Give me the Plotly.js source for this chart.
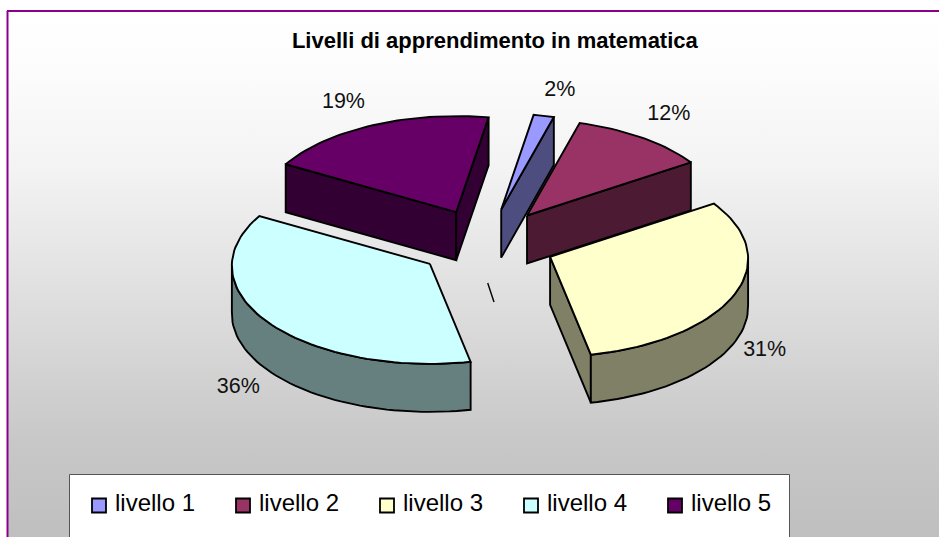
<!DOCTYPE html>
<html>
<head>
<meta charset="utf-8">
<script src="https://cdn.plot.ly/plotly-3.0.1.min.js"></script>
<style>
html,body{margin:0;padding:0;background:#fff;overflow:hidden}
#wrap{position:absolute;left:0;top:0;width:939px;height:537px;background:#fff}
#grad{position:absolute;left:7px;top:10px;right:0;bottom:0;
background:linear-gradient(to bottom,#fff 0,#fdfdfd 50px,#f3f3f3 160px,#c8c8c8 430px,#bfbfbf 527px)}
#chart{position:absolute;left:0;top:0;width:939px;height:537px}
</style>
</head>
<body>
<div id="wrap"><div id="grad"></div><div id="chart"></div></div>
<script>
// ---- data ----
const chartTitle = 'Livelli di apprendimento in matematica';
const categories = ['livello 1','livello 2','livello 3','livello 4','livello 5'];
const values = [1.7, 11.4, 31, 36.45, 19.45];
const valueLabels = ['2%','12%','31%','36%','19%'];
const topColors = ['#9999FF','#993366','#FFFFCC','#CCFFFF','#660066'];
const sideColors = ['#4D4D80','#4D1A33','#808066','#668080','#330033'];

// ---- projection of the tilted pie ----
const firstAngle = 9.6, center = [486, 243.5], rx = 198, ry = 98, depth = 48, explode = 69.4, persp = 0.02;
const outline = {color:'#000', width:1.9};
const labelFont = '"Liberation Sans",Arial,sans-serif';
const labelNudge = [[3,3],[-8,0],[-3,1],[-1,7],[-4,4]];
const rad = d => d*Math.PI/180;
const total = values.reduce((a,b)=>a+b,0);
let acc = firstAngle;
const slices = values.map((v,i)=>{
  const a0 = acc, a1 = acc + v/total*360; acc = a1;
  const mid = rad((a0+a1)/2);
  return {i,a0,a1,mid,
    ax: center[0]+explode*Math.sin(mid),
    ay: center[1]-explode*0.5*Math.cos(mid)};
});
function pt(s,a,dz){
  const c=Math.cos(rad(a)), f=1/(1+persp*c);
  return [s.ax+rx*Math.sin(rad(a))*f, s.ay-ry*c*f+(dz||0)];
}
function arc(s,a0,a1,dz){
  const n = Math.max(2,Math.ceil(Math.abs(a1-a0)/2)), out=[];
  for(let k=0;k<=n;k++) out.push(pt(s,a0+(a1-a0)*k/n,dz));
  return out;
}
const traces = [];
function poly(points,color,name){
  traces.push({type:'scatter',mode:'lines',x:points.map(p=>p[0]),y:points.map(p=>p[1]),
    fill:'toself',fillcolor:color,line:outline,hoverinfo:'text',text:name,showlegend:false});
}
function radialWall(s,a){
  const e=pt(s,a);
  poly([[s.ax,s.ay],e,[e[0],e[1]+depth],[s.ax,s.ay+depth],[s.ax,s.ay]],sideColors[s.i],categories[s.i]);
}
function drawSlice(s){
  const sn=a=>Math.sin(rad(a));
  if(sn(s.a0)<0) radialWall(s,s.a0);
  if(sn(s.a1)>0) radialWall(s,s.a1);
  const lo=Math.max(s.a0,90), hi=Math.min(s.a1,270);
  if(hi>lo){
    const front=arc(s,lo,hi,0), back=arc(s,hi,lo,depth);
    poly(front.concat(back,[front[0]]),sideColors[s.i],categories[s.i]);
  }
  const top=[[s.ax,s.ay]].concat(arc(s,s.a0,s.a1,0),[[s.ax,s.ay]]);
  poly(top,topColors[s.i],categories[s.i]);
}
[4,0,1,3,2].forEach(i=>drawSlice(slices[i]));

// percentage labels placed outside each slice along its bisector
const lab = slices.map(s=>{
  const lower = Math.cos(s.mid)<0, k = lower?1.19:1.28, n=labelNudge[s.i];
  return [s.ax+k*rx*Math.sin(s.mid)+n[0], s.ay-k*ry*Math.cos(s.mid)+(lower?depth:0)+n[1]];
});
traces.push({type:'scatter',mode:'text',x:lab.map(p=>p[0]),y:lab.map(p=>p[1]),text:valueLabels,
  textposition:'middle center',textfont:{family:labelFont,size:21.5,color:'#111'},
  hoverinfo:'skip',showlegend:false});

// legend
const legendX0 = 91, legendStep = 144, legendY = 505.5;
categories.forEach((c,i)=>{
  traces.push({type:'scatter',mode:'markers',x:[legendX0+8+i*legendStep],y:[legendY],
    marker:{symbol:'square',size:14,color:topColors[i],line:{color:'#000',width:1.8}},
    hoverinfo:'text', hovertext:c, showlegend:false});
});
const annotations = categories.map((c,i)=>({
  x:legendX0+23+i*legendStep,y:legendY-3,xref:'x',yref:'y',xanchor:'left',yanchor:'middle',showarrow:false,
  text:c,font:{family:labelFont,size:24,color:'#000'},borderpad:0}));

const layout = {
  width:939,height:537,margin:{l:0,r:0,t:0,b:0},
  paper_bgcolor:'rgba(0,0,0,0)',plot_bgcolor:'rgba(0,0,0,0)',
  showlegend:false,hovermode:'closest',
  xaxis:{range:[0,939],visible:false,fixedrange:true},
  yaxis:{range:[537,0],visible:false,fixedrange:true},
  title:{text:'<b>'+chartTitle+'</b>',x:0.527,xanchor:'center',y:0.925,yanchor:'middle',
    font:{family:labelFont,size:22,color:'#000'}},
  annotations,
  shapes:[
    {type:'line',xref:'x',yref:'y',x0:7.5,y0:11,x1:7.5,y1:537,line:{color:'#8B008B',width:2},layer:'below'},
    {type:'line',xref:'x',yref:'y',x0:7,y0:11,x1:939,y1:11,line:{color:'#8B008B',width:2},layer:'below'},
    {type:'rect',xref:'x',yref:'y',x0:69.5,y0:474.5,x1:789.5,y1:560,fillcolor:'#fff',line:{color:'#555',width:1},layer:'below'},
    {type:'line',xref:'x',yref:'y',x0:487.7,y0:283,x1:494,y1:302,line:{color:'#000',width:1.4},layer:'above'}
  ]
};
Plotly.newPlot('chart',traces,layout,{displayModeBar:false});
</script>
</body>
</html>
